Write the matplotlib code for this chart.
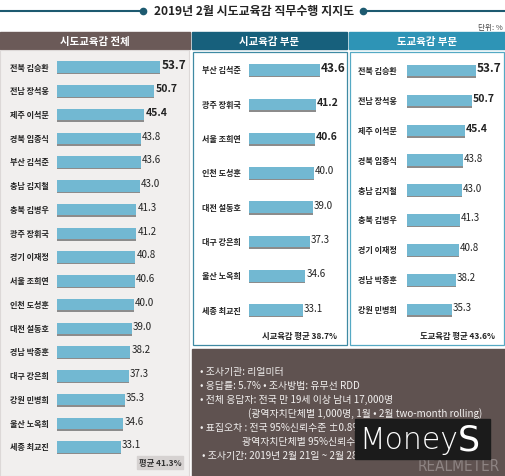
import matplotlib
matplotlib.use("Agg")
import matplotlib.pyplot as plt
from matplotlib.patches import Rectangle

plt.rcParams['font.family'] = ['Noto Sans CJK KR', 'DejaVu Sans']

# all regions
all_names = ["전북 김승환", "전남 장석웅", "제주 이석문", "경북 임종식", "부산 김석준",
             "충남 김지철", "충북 김병우", "광주 장휘국", "경기 이재정", "서울 조희연",
             "인천 도성훈", "대전 설동호", "경남 박종훈", "대구 강은희", "강원 민병희",
             "울산 노옥희", "세종 최교진"]
all_values = [53.7, 50.7, 45.4, 43.8, 43.6, 43.0, 41.3, 41.2, 40.8, 40.6,
              40.0, 39.0, 38.2, 37.3, 35.3, 34.6, 33.1]

# city superintendents
city_names = ["부산 김석준", "광주 장휘국", "서울 조희연", "인천 도성훈",
              "대전 설동호", "대구 강은희", "울산 노옥희", "세종 최교진"]
city_values = [43.6, 41.2, 40.6, 40.0, 39.0, 37.3, 34.6, 33.1]

# province superintendents
prov_names = ["전북 김승환", "전남 장석웅", "제주 이석문", "경북 임종식", "충남 김지철",
              "충북 김병우", "경기 이재정", "경남 박종훈", "강원 민병희"]
prov_values = [53.7, 50.7, 45.4, 43.8, 43.0, 41.3, 40.8, 38.2, 35.3]

notes = [
    (200, "• 조사기관: 리얼미터"),
    (200, "• 응답률: 5.7% • 조사방법: 유무선 RDD"),
    (200, "• 전체 응답자: 전국 만 19세 이상 남녀 17,000명"),
    (248, "(광역자치단체별 1,000명, 1월 • 2월 two-month rolling)"),
    (200, "• 표집오차 : 전국 95%신뢰수준 ±0.8%p"),
    (242, "광역자치단체별 95%신뢰수준 ±3.1%p"),
    (202, "• 조사기간: 2019년 2월 21일 ~ 2월 28일"),
]

BAR = "#72b8d2"
SHADOW = "#8c8c8c"
W, H = 506, 477

fig = plt.figure(figsize=(W / 100, H / 100), dpi=100)
fig.patch.set_facecolor("white")

bg = fig.add_axes([0, 0, 1, 1])
bg.set_xlim(0, W)
bg.set_ylim(H, 0)
bg.axis("off")

# title with lines
bg.plot([0, 143], [12, 12], color="#1d5a70", lw=1.5)
bg.plot([363, W], [12, 12], color="#1d5a70", lw=1.5)
bg.plot([143, 363], [12, 12], ls="none", marker="o", ms=4.5, color="#1d5a70")
bg.text(254, 11, "2019년 2월 시도교육감 직무수행 지지도", ha="center", va="center",
        fontsize=8.6, fontweight="bold", color="#222222")
bg.text(503, 28, "단위: %", ha="right", va="center", fontsize=5.5, color="#444444")

# headers
bg.add_patch(Rectangle((0, 33), 190, 17, color="#6b5a58"))
bg.add_patch(Rectangle((192, 33), 155, 17, color="#17607c"))
bg.add_patch(Rectangle((349, 33), 157, 17, color="#2e94b6"))
for cx, t in [(95, "시도교육감 전체"), (269.5, "시교육감 부문"), (427.5, "도교육감 부문")]:
    bg.text(cx, 41.5, t, ha="center", va="center", fontsize=7.5,
            fontweight="bold", color="white")

# panel bodies
bg.add_patch(Rectangle((0, 51), 189, 426, facecolor="#f1efee", edgecolor="#dcd8d7", lw=0.8))
bg.add_patch(Rectangle((193, 53), 154, 293, facecolor="white", edgecolor="#3f8aa3", lw=0.9))
bg.add_patch(Rectangle((350, 53), 154, 293, facecolor="white", edgecolor="#55a9c4", lw=0.9))
bg.add_patch(Rectangle((192, 350), 314, 127, color="#5f5250"))

# average boxes
bg.add_patch(Rectangle((137, 457), 46, 13, color="#d6d2d1"))
bg.text(160, 463.5, "평균 41.3%", ha="center", va="center", fontsize=6,
        fontweight="bold", color="#333333")
bg.text(337, 337, "시교육감 평균 38.7%", ha="right", va="center", fontsize=6,
        fontweight="bold", color="#222222")
bg.text(495, 337, "도교육감 평균 43.6%", ha="right", va="center", fontsize=6,
        fontweight="bold", color="#222222")

for i, (x, t) in enumerate(notes):
    bg.text(x, 372 + 14 * i, t, ha="left", va="center", fontsize=7.1, color="#f2f0ef")

# watermark
bg.text(500, 467, "REALMETER", ha="right", va="center", fontsize=11,
        color="#8e8483", family="DejaVu Sans", fontstretch="condensed")
bg.add_patch(Rectangle((355, 420), 135, 40, color="#1b1b1b", zorder=3))
bg.text(359, 441, "Money", ha="left", va="center", fontsize=21.5,
        color="white", fontweight="light", family="DejaVu Sans", zorder=4)
bg.text(458, 441, "S", ha="left", va="center", fontsize=25,
        color="white", family="DejaVu Sans", zorder=4)


def panel(names, values, x0, x1, y_first, step, ppu, label_x, big_bold):
    n = len(names)
    top = y_first - step / 2
    bot = y_first + step * (n - 1) + step / 2
    ax = fig.add_axes([x0 / W, 1 - bot / H, (x1 - x0) / W, (bot - top) / H])
    ax.set_xlim(0, (x1 - x0) / ppu)
    ax.set_ylim(n - 0.5, -0.5)
    ax.axis("off")
    ax.patch.set_alpha(0)
    pos = list(range(n))
    hb = 11.5 / step
    ax.barh([p + 1.6 / step for p in pos], values, height=hb, color=SHADOW)
    ax.barh(pos, values, height=hb, color=BAR)
    for i, (nm, v) in enumerate(zip(names, values)):
        yy = y_first + step * i
        bg.text(label_x, yy, nm, ha="left", va="center", fontsize=5.8,
                fontweight="bold", color="#222222")
        if i == 0:
            fs, fw = 8.5, "bold"
        elif i < big_bold:
            fs, fw = 7.5, "bold"
        else:
            fs, fw = 7, "normal"
        ax.text(v + 0.6, i - 2.5 / step, f"{v:.1f}", ha="left", va="center",
                fontsize=fs, fontweight=fw, color="#222222")


panel(all_names, all_values, 57, 189, 68, 23.75, 1.92, 10, 3)
panel(city_names, city_values, 249, 347, 71, 34.3, 1.63, 202, 3)
panel(prov_names, prov_values, 407, 504, 71.5, 29.9, 1.285, 358, 3)

fig.savefig("out.png", dpi=100)
